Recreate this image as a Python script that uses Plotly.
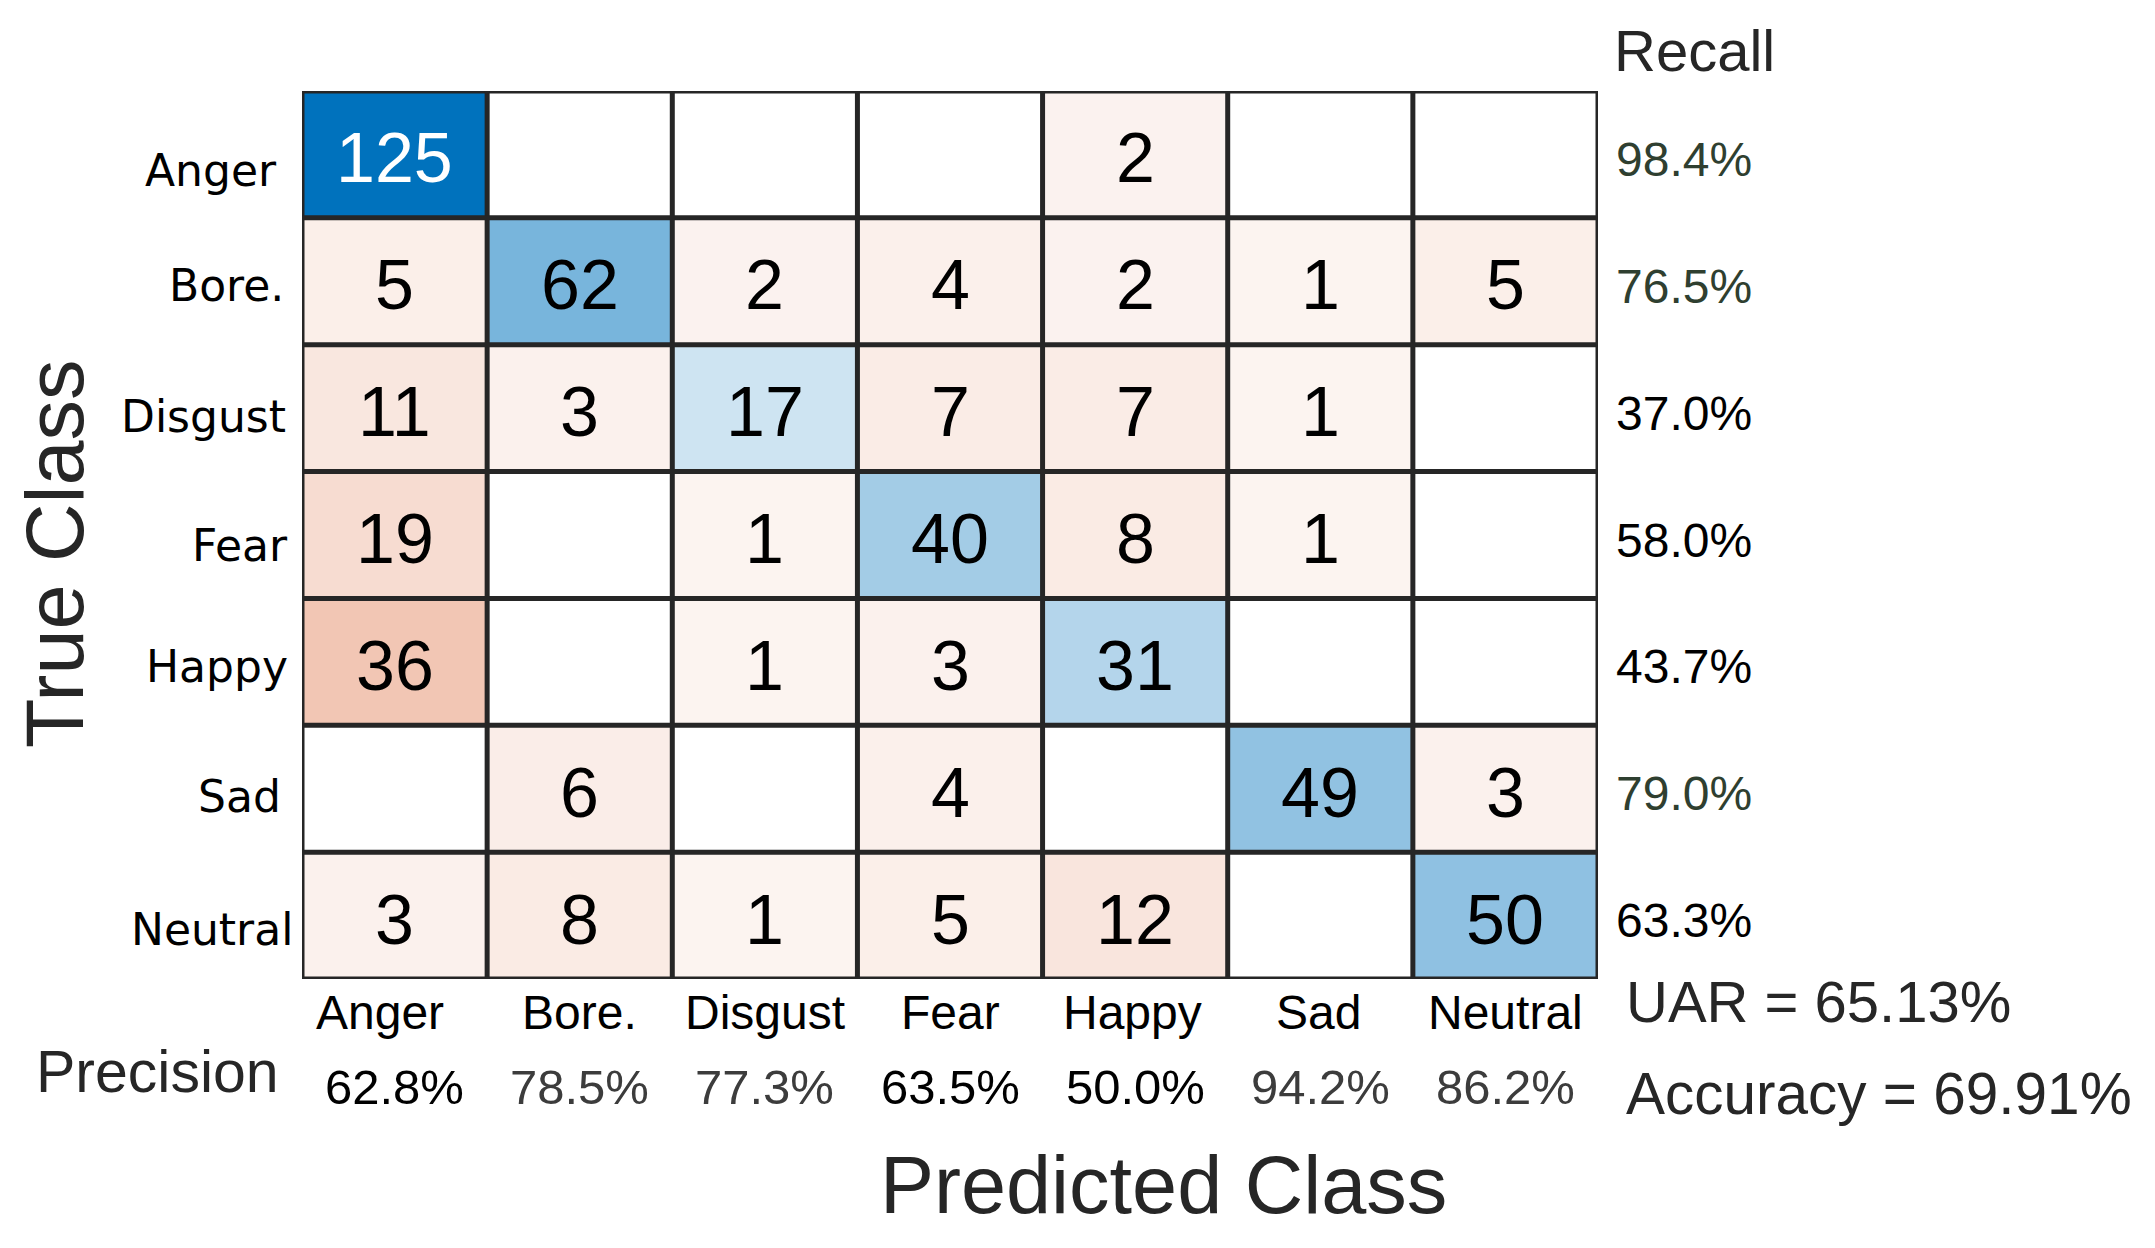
import plotly.graph_objects as go

classes = ["Anger", "Bore.", "Disgust", "Fear", "Happy", "Sad", "Neutral"]
counts = [
    [125, 0, 0, 0, 2, 0, 0],
    [5, 62, 2, 4, 2, 1, 5],
    [11, 3, 17, 7, 7, 1, 0],
    [19, 0, 1, 40, 8, 1, 0],
    [36, 0, 1, 3, 31, 0, 0],
    [0, 6, 0, 4, 0, 49, 3],
    [3, 8, 1, 5, 12, 0, 50],
]
recall = ["98.4%", "76.5%", "37.0%", "58.0%", "43.7%", "79.0%", "63.3%"]
precision = ["62.8%", "78.5%", "77.3%", "63.5%", "50.0%", "94.2%", "86.2%"]
uar_text = "UAR = 65.13%"
acc_text = "Accuracy = 69.91%"

W, H = 2155, 1248
OFF = 8  # page body margin compensation


def px(x):
    return (x - OFF) / W


def py(y):
    return 1 - (y - OFF) / H


L, R, T, B = 302, 1598, 91, 979
FONT = "Liberation Sans, Arial, sans-serif"
DARK = "#262626"
row_nudge = [-16, -4, -8, -10, -5, -8, -14]
row_xnudge = [-8, -1, 1, 3, 3, -4, 8]
col_nudge = [-15, 0, 0, 0, -3, -2, 0]

n = len(classes)
zmax = max(max(r) for r in counts)
diag = [[counts[i][j] if i == j else None for j in range(n)] for i in range(n)]
off = [[counts[i][j] if (i != j and counts[i][j] > 0) else None for j in range(n)] for i in range(n)]

fig = go.Figure()
fig.add_trace(go.Heatmap(z=off, x=list(range(n)), y=list(range(n)), zmin=0, zmax=zmax,
                         colorscale=[[0, "rgb(252,245,242)"], [1, "rgb(217,83,25)"]],
                         showscale=False, hoverinfo="skip"))
fig.add_trace(go.Heatmap(z=diag, x=list(range(n)), y=list(range(n)), zmin=0, zmax=zmax,
                         colorscale=[[0, "rgb(239,246,250)"], [1, "rgb(0,114,189)"]],
                         showscale=False, hoverinfo="skip"))

ann = []
for i in range(n):
    for j in range(n):
        v = counts[i][j]
        if v > 0:
            ann.append(dict(x=j, y=i, xref="x", yref="y", text=str(v), showarrow=False,
                            xanchor="center", yanchor="middle", yshift=-4,
                            font=dict(family=FONT, size=70,
                                      color="white" if v == zmax else "black")))
for i, c in enumerate(classes):
    ann.append(dict(x=px(287), y=i, xref="paper", yref="y", text=c, showarrow=False,
                    xanchor="right", yanchor="middle", yshift=row_nudge[i], xshift=row_xnudge[i],
                    font=dict(family="DejaVu Sans, Verdana, sans-serif", size=44, color="black")))
for j, c in enumerate(classes):
    ann.append(dict(x=j, y=py(1012), xref="x", yref="paper", text=c, showarrow=False,
                    xanchor="center", yanchor="middle", xshift=col_nudge[j],
                    font=dict(family=FONT, size=48, color="black")))
prec_colors = ["black", "#3c3c3c", "#3c3c3c", "black", "black", "#3c3c3c", "#3c3c3c"]
for j, p in enumerate(precision):
    ann.append(dict(x=j, y=py(1087), xref="x", yref="paper", text=p, showarrow=False,
                    xanchor="center", yanchor="middle",
                    font=dict(family=FONT, size=49, color=prec_colors[j])))
rec_colors = ["#2f3f30", "#2f3f30", "black", "black", "black", "#2f3f30", "black"]
for i, r in enumerate(recall):
    ann.append(dict(x=px(1614), y=i, xref="paper", yref="y", text=r, showarrow=False,
                    xanchor="left", yanchor="middle", yshift=-5,
                    font=dict(family=FONT, size=48, color=rec_colors[i])))

ann += [
    dict(x=px(1612), y=py(51), xref="paper", yref="paper", text="Recall", showarrow=False,
         xanchor="left", yanchor="middle", font=dict(family=FONT, size=58, color=DARK)),
    dict(x=px(281), y=py(1072), xref="paper", yref="paper", text="Precision", showarrow=False,
         xanchor="right", yanchor="middle", font=dict(family=FONT, size=59, color=DARK)),
    dict(x=px(1624), y=py(1002), xref="paper", yref="paper", text=uar_text, showarrow=False,
         xanchor="left", yanchor="middle", font=dict(family=FONT, size=58, color=DARK)),
    dict(x=px(1624), y=py(1093), xref="paper", yref="paper", text=acc_text, showarrow=False,
         xanchor="left", yanchor="middle", font=dict(family=FONT, size=58.5, color=DARK)),
    dict(x=px(1163), y=py(1185), xref="paper", yref="paper", text="Predicted Class",
         showarrow=False, xanchor="center", yanchor="middle",
         font=dict(family=FONT, size=81, color=DARK)),
    dict(x=px(55), y=py(554), xref="paper", yref="paper", text="True Class", textangle=-90,
         showarrow=False, xanchor="center", yanchor="middle",
         font=dict(family=FONT, size=81, color=DARK)),
]

shapes = []
for k in range(n + 1):
    shapes.append(dict(type="line", xref="x", yref="y", x0=k - 0.5, x1=k - 0.5, y0=-0.5, y1=n - 0.5,
                       line=dict(color=DARK, width=5)))
    shapes.append(dict(type="line", xref="x", yref="y", y0=k - 0.5, y1=k - 0.5, x0=-0.5, x1=n - 0.5,
                       line=dict(color=DARK, width=5)))

fig.update_layout(
    width=W, height=H, margin=dict(l=0, r=0, t=0, b=0),
    paper_bgcolor="white", plot_bgcolor="white",
    xaxis=dict(domain=[px(L), px(R)], range=[-0.5, n - 0.5], visible=False, fixedrange=True),
    yaxis=dict(domain=[py(B), py(T)], range=[n - 0.5, -0.5], visible=False, fixedrange=True),
    annotations=ann, shapes=shapes, showlegend=False,
)
fig.write_html("out.html")
